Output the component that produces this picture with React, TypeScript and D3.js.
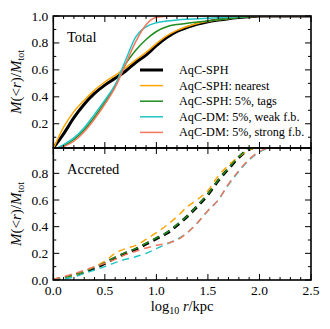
import React, { useRef, useEffect } from "react";
import * as d3 from "d3";

// log10 r/kpc sample grid
const rGrid = [0, 0.1, 0.2, 0.3, 0.4, 0.5, 0.6, 0.7, 0.8, 0.9, 1.0, 1.1, 1.2, 1.3, 1.4, 1.5, 1.6, 1.7, 1.8, 1.9, 2.0, 2.1, 2.2, 2.3, 2.4, 2.5];

// Total
const totSph = [0.02, 0.125, 0.245, 0.345, 0.425, 0.487, 0.537, 0.59, 0.655, 0.71, 0.78, 0.84, 0.885, 0.915, 0.94, 0.958, 0.97, 0.98, 0.988, 0.995, 1, 1, 1, 1, 1, 1];
const totNearest = [0.015, 0.175, 0.29, 0.375, 0.45, 0.51, 0.56, 0.615, 0.675, 0.73, 0.795, 0.852, 0.893, 0.922, 0.945, 0.96, 0.972, 0.982, 0.99, 0.996, 1, 1, 1, 1, 1, 1];
const totTags = [0.005, 0.035, 0.083, 0.155, 0.25, 0.36, 0.48, 0.64, 0.745, 0.825, 0.885, 0.92, 0.937, 0.946, 0.955, 0.963, 0.972, 0.98, 0.988, 0.995, 1, 1, 1, 1, 1, 1];
const totWeak = [0.005, 0.045, 0.095, 0.17, 0.27, 0.375, 0.49, 0.67, 0.845, 0.92, 0.95, 0.963, 0.97, 0.975, 0.979, 0.983, 0.987, 0.991, 0.995, 0.998, 1, 1, 1, 1, 1, 1];
const totStrong = [0.0, 0.03, 0.07, 0.14, 0.235, 0.345, 0.47, 0.64, 0.81, 0.935, 0.99, 0.998, 1, 1, 1, 1, 1, 1, 1, 1, 1, 1, 1, 1, 1, 1];

// Accreted
const accSph = [0, 0.015, 0.035, 0.06, 0.09, 0.125, 0.165, 0.2, 0.23, 0.27, 0.31, 0.35, 0.41, 0.477, 0.555, 0.64, 0.745, 0.835, 0.92, 0.98, 1, 1, 1, 1, 1, 1];
const accNearest = [0, 0.012, 0.033, 0.065, 0.1, 0.14, 0.2, 0.235, 0.26, 0.305, 0.355, 0.41, 0.475, 0.55, 0.605, 0.67, 0.78, 0.86, 0.925, 0.975, 1, 1, 1, 1, 1, 1];
const accTags = [0, 0.017, 0.038, 0.064, 0.095, 0.13, 0.17, 0.205, 0.235, 0.275, 0.315, 0.355, 0.415, 0.48, 0.56, 0.645, 0.75, 0.84, 0.925, 0.982, 1, 1, 1, 1, 1, 1];
const accWeak = [0, 0.008, 0.022, 0.05, 0.075, 0.1, 0.13, 0.155, 0.175, 0.2, 0.235, 0.27, 0.305, 0.355, 0.43, 0.52, 0.6, 0.715, 0.815, 0.9, 0.96, 0.99, 1, 1, 1, 1];
const accStrong = [0.005, 0.025, 0.048, 0.072, 0.1, 0.125, 0.155, 0.19, 0.215, 0.24, 0.26, 0.275, 0.3, 0.355, 0.43, 0.52, 0.6, 0.72, 0.82, 0.905, 0.965, 0.99, 1, 1, 1, 1];

const labels = ["AqC-SPH", "AqC-SPH: nearest", "AqC-SPH: 5%, tags", "AqC-DM: 5%, weak f.b.", "AqC-DM: 5%, strong f.b."];
const colors = ["#000000", "#FFA500", "#1E8C1E", "#1FC4C4", "#F4765C"];
const widths = [3, 1.5, 1.5, 1.5, 1.5];

const xTicks = [0, 0.5, 1.0, 1.5, 2.0, 2.5];
const topYTicks = [0.2, 0.4, 0.6, 0.8, 1.0];
const botYTicks = [0, 0.2, 0.4, 0.6, 0.8];

const FONT = "'Liberation Serif', 'DejaVu Serif', serif";

export default function App() {
  const svgRef = useRef<SVGSVGElement>(null);

  useEffect(() => {
    const svg = d3.select(svgRef.current);
    svg.selectAll("*").remove();

    const left = 53.3, right = 311, top = 16, mid = 148, bottom = 280;
    const x = d3.scaleLinear().domain([0, 2.5]).range([left, right]);
    const yTop = d3.scaleLinear().domain([0.02, 1.0]).range([mid, top]);
    const yBot = d3.scaleLinear().domain([0, 0.99]).range([bottom, mid]);

    const panels = [
      { id: "top", y: yTop, y0: top, y1: mid, series: [totSph, totNearest, totTags, totWeak, totStrong], dash: null, yTicks: topYTicks, title: "Total" },
      { id: "bot", y: yBot, y0: mid, y1: bottom, series: [accSph, accNearest, accTags, accWeak, accStrong], dash: "7,5", yTicks: botYTicks, title: "Accreted" },
    ];

    const defs = svg.append("defs");

    panels.forEach((p) => {
      defs.append("clipPath").attr("id", "clip-" + p.id)
        .append("rect").attr("x", left).attr("y", p.y0).attr("width", right - left).attr("height", p.y1 - p.y0);

      const g = svg.append("g").attr("clip-path", `url(#clip-${p.id})`);
      const line = d3.line<number>()
        .x((d, i) => x(rGrid[i]))
        .y((d) => p.y(d))
        .curve(d3.curveMonotoneX);

      p.series.forEach((s, k) => {
        g.append("path")
          .attr("d", line(s))
          .attr("fill", "none")
          .attr("stroke", colors[k])
          .attr("stroke-width", widths[k])
          .attr("stroke-dasharray", p.dash)
          .attr("stroke-linejoin", "round");
      });

      // ticks
      const tk = svg.append("g").attr("stroke", "#000").attr("stroke-width", 1);
      const minorX = d3.range(0, 2.51, 0.1);
      minorX.forEach((v) => {
        const major = xTicks.some((t) => Math.abs(t - v) < 1e-6);
        const len = major ? 6 : 3;
        tk.append("line").attr("x1", x(v)).attr("x2", x(v)).attr("y1", p.y0).attr("y2", p.y0 + len);
        tk.append("line").attr("x1", x(v)).attr("x2", x(v)).attr("y1", p.y1).attr("y2", p.y1 - len);
      });
      const yDom = p.y.domain();
      d3.range(0, 1.01, 0.1).filter((v) => v >= yDom[0] - 1e-6 && v <= yDom[1] + 1e-6).forEach((v) => {
        const major = Math.abs(v * 5 - Math.round(v * 5)) < 1e-6;
        const len = major ? 6 : 3;
        tk.append("line").attr("x1", left).attr("x2", left + len).attr("y1", p.y(v)).attr("y2", p.y(v));
        tk.append("line").attr("x1", right).attr("x2", right - len).attr("y1", p.y(v)).attr("y2", p.y(v));
      });

      // y tick labels
      svg.append("g").selectAll("text").data(p.yTicks).join("text")
        .attr("x", left - 5)
        .attr("y", (d) => p.y(d) + 4.5)
        .attr("text-anchor", "end")
        .attr("font-family", FONT)
        .attr("font-size", 13.5)
        .text((d) => d.toFixed(1));

      // frame
      svg.append("rect").attr("x", left).attr("y", p.y0).attr("width", right - left).attr("height", p.y1 - p.y0)
        .attr("fill", "none").attr("stroke", "#000").attr("stroke-width", 1.6);

      // panel title
      svg.append("text").attr("x", 67).attr("y", p.y0 + 26).attr("font-family", FONT).attr("font-size", 14.5).text(p.title);

      // y label
      const cy = (p.y0 + p.y1) / 2;
      const yl = svg.append("text")
        .attr("transform", `translate(21,${cy}) rotate(-90)`)
        .attr("text-anchor", "middle")
        .attr("font-family", FONT)
        .attr("font-size", 15);
      yl.append("tspan").attr("font-style", "italic").text("M");
      yl.append("tspan").text("(<");
      yl.append("tspan").attr("font-style", "italic").text("r");
      yl.append("tspan").text(")/");
      yl.append("tspan").attr("font-style", "italic").text("M");
      yl.append("tspan").attr("font-size", 10).attr("dy", 3).text("tot");
    });

    // x tick labels
    svg.append("g").selectAll("text").data(xTicks).join("text")
      .attr("x", (d) => x(d))
      .attr("y", bottom + 15)
      .attr("text-anchor", "middle")
      .attr("font-family", FONT)
      .attr("font-size", 13.5)
      .text((d) => d.toFixed(1));

    // x label
    const xl = svg.append("text")
      .attr("x", (left + right) / 2)
      .attr("y", 311)
      .attr("text-anchor", "middle")
      .attr("font-family", FONT)
      .attr("font-size", 14.5);
    xl.append("tspan").text("log");
    xl.append("tspan").attr("font-size", 10).attr("dy", 3).text("10");
    xl.append("tspan").attr("dy", -3).text(" ");
    xl.append("tspan").attr("font-style", "italic").text("r");
    xl.append("tspan").text("/kpc");

    // legend
    const lg = svg.append("g");
    labels.forEach((name, k) => {
      const ly = 70 + k * 15.6;
      lg.append("line").attr("x1", 140).attr("x2", 163).attr("y1", ly).attr("y2", ly)
        .attr("stroke", colors[k]).attr("stroke-width", widths[k]);
      lg.append("text").attr("x", 179).attr("y", ly + 4).attr("font-family", FONT).attr("font-size", 12.2).text(name);
    });
  }, []);

  return (
    <svg ref={svgRef} width={330} height={329} style={{ position: "absolute", left: 0, top: 0, background: "#fff" }} />
  );
}
